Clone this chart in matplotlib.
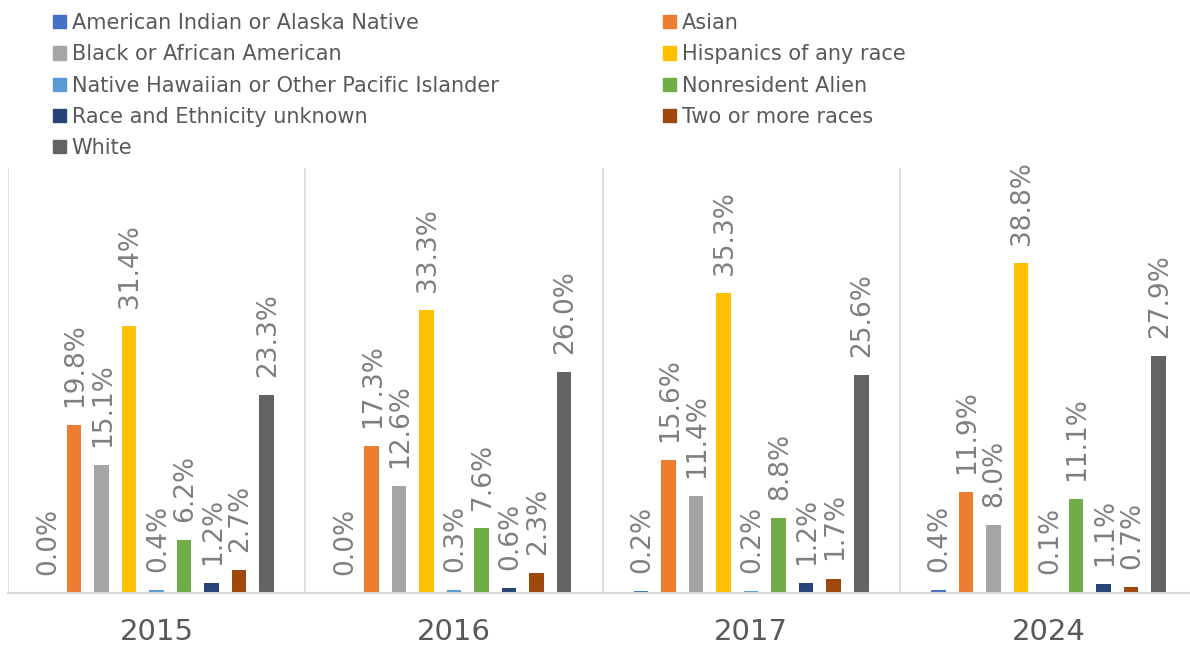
import matplotlib.pyplot as plt
import numpy as np
from matplotlib.patches import Patch

years = ["2015", "2016", "2017", "2024"]
groups = [
    "American Indian or Alaska Native",
    "Asian",
    "Black or African American",
    "Hispanics of any race",
    "Native Hawaiian or Other Pacific Islander",
    "Nonresident Alien",
    "Race and Ethnicity unknown",
    "Two or more races",
    "White",
]
colors = ["#4472C4", "#ED7D31", "#A5A5A5", "#FFC000", "#5B9BD5",
          "#70AD47", "#264478", "#9E480E", "#636363"]

# percent share per year, one list per group
american_indian = [0.0, 0.0, 0.2, 0.4]
asian = [19.8, 17.3, 15.6, 11.9]
black = [15.1, 12.6, 11.4, 8.0]
hispanic = [31.4, 33.3, 35.3, 38.8]
hawaiian = [0.4, 0.3, 0.2, 0.1]
nonresident = [6.2, 7.6, 8.8, 11.1]
unknown = [1.2, 0.6, 1.2, 1.1]
two_or_more = [2.7, 2.3, 1.7, 0.7]
white = [23.3, 26.0, 25.6, 27.9]
values = [american_indian, asian, black, hispanic, hawaiian,
          nonresident, unknown, two_or_more, white]

plt.rcParams["font.family"] = ["DejaVu Sans"]
label_grey = "#7f7f7f"
text_grey = "#595959"
line_grey = "#d9d9d9"

fig = plt.figure(figsize=(11.9, 6.48), dpi=100)
ax = fig.add_axes([8 / 1190, 55 / 648, 1189 / 1190, 425 / 648])

x = np.arange(len(years))
slot = 0.0926
width = 0.049
for i, (name, vals, color) in enumerate(zip(groups, values, colors)):
    pos = x + (i - 4) * slot
    ax.bar(pos, vals, width=width, color=color, label=name)
    for px, v in zip(pos, vals):
        ax.annotate(f"{v:.1f}%", (px, v), xytext=(1, 13),
                    textcoords="offset points", rotation=90,
                    ha="center", va="bottom", fontsize=19, color=label_grey)

ax.set_xlim(-0.5, 3.5)
ax.set_ylim(0, 50)
for b in np.arange(-0.5, 4, 1):
    ax.axvline(b, color=line_grey, lw=1.2, zorder=0)
for side in ["top", "right", "left"]:
    ax.spines[side].set_visible(False)
ax.spines["bottom"].set_color(line_grey)
ax.spines["bottom"].set_linewidth(1.5)
ax.set_yticks([])
ax.set_xticks(x)
ax.set_xticklabels(years, fontsize=21, color=text_grey)
ax.tick_params(axis="x", length=0, pad=18)

handles = [Patch(color=c) for c in colors]
legend_opts = dict(frameon=False, fontsize=15, labelcolor=text_grey,
                   handlelength=0.6, handleheight=0.6, handletextpad=0.3,
                   labelspacing=0.54, borderpad=0, borderaxespad=0,
                   loc="upper left")
left_idx = [0, 2, 4, 6, 8]
right_idx = [1, 3, 5, 7]
fig.legend([handles[i] for i in left_idx], [groups[i] for i in left_idx],
           bbox_to_anchor=(53 / 1190, 1 - 13 / 648), **legend_opts)
fig.legend([handles[i] for i in right_idx], [groups[i] for i in right_idx],
           bbox_to_anchor=(663 / 1190, 1 - 13 / 648), **legend_opts)

fig.savefig("out.png", dpi=100)
